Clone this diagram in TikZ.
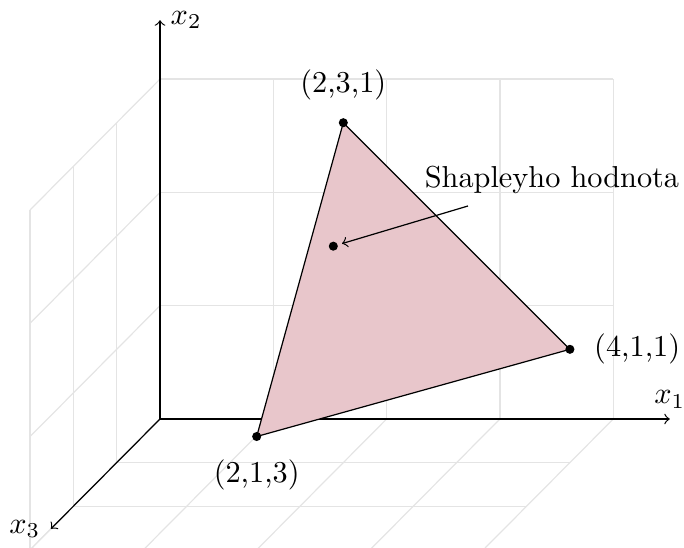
\documentclass[tikz,border=0pt]{standalone}
\definecolor{tri}{RGB}{232,198,203}
\definecolor{gridc}{RGB}{228,228,228}
\begin{document}
\begin{tikzpicture}[
  x={(37.39pt,0pt)}, y={(0pt,37.39pt)}, z={(-14.29pt,-14.39pt)},
  gridline/.style={gridc, line width=0.4pt},
  axis/.style={->, line width=0.4pt},
  dot/.style={fill=black},
  lbl/.style={inner sep=3.33pt}
]
\useasboundingbox (-52.8pt,-42.24pt) rectangle (172.92pt,138.27pt);
\clip (-52.8pt,-42.24pt) rectangle (172.92pt,138.27pt);
% grid: back wall
\foreach \i in {0,...,4} \draw[gridline] (\i,0,0) -- (\i,3,0);
\foreach \j in {0,...,3} \draw[gridline] (0,\j,0) -- (4,\j,0);
% left wall
\foreach \k in {0,...,3} \draw[gridline] (0,0,\k) -- (0,3,\k);
\foreach \j in {0,...,3} \draw[gridline] (0,\j,0) -- (0,\j,3);
% floor
\foreach \i in {0,...,4} \draw[gridline] (\i,0,0) -- (\i,0,3);
\foreach \k in {0,...,3} \draw[gridline] (0,0,\k) -- (4,0,\k);
% axes
\coordinate (O) at (0,0,0);
\coordinate (E1) at (4.5,0,0);
\coordinate (E2) at (0,3.52,0);
\coordinate (E3) at (0,0,2.52);
\draw[axis] (O) -- (E1);
\draw[axis] (O) -- (E2);
\draw[axis] (O) -- (E3);
\node[lbl, above] (l1) at (E1) {$x_1$};
\node[lbl, right] (l2) at (E2) {$x_2$};
\node[lbl, left] (l3) at (E3) {$x_3$};
% triangle
\coordinate (A) at (2,3,1);
\coordinate (B) at (4,1,1);
\coordinate (C) at (2,1,3);
\filldraw[fill=tri, line width=0.4pt] (A) -- (B) -- (C) -- cycle;
\coordinate (S) at (13/6,13/6,5/3);
\fill[dot] (A) circle (1.5pt);
\fill[dot] (B) circle (1.5pt);
\fill[dot] (C) circle (1.5pt);
\fill[dot] (S) circle (1.5pt);
\node[lbl, above=4pt] (lA) at (A) {(2,3,1)};
\node[lbl, right=4.5pt] (lB) at (B) {(4,1,1)};
\node[lbl, below=4pt] (lC) at (C) {(2,1,3)};
\node[lbl] (lS) at (3.46,2.11,0) {Shapleyho hodnota};
\coordinate (Sstart) at (2.718,1.88,0);
\draw[->, line width=0.4pt, shorten >=3pt] (Sstart) -- (S);
\end{tikzpicture}
\end{document}
